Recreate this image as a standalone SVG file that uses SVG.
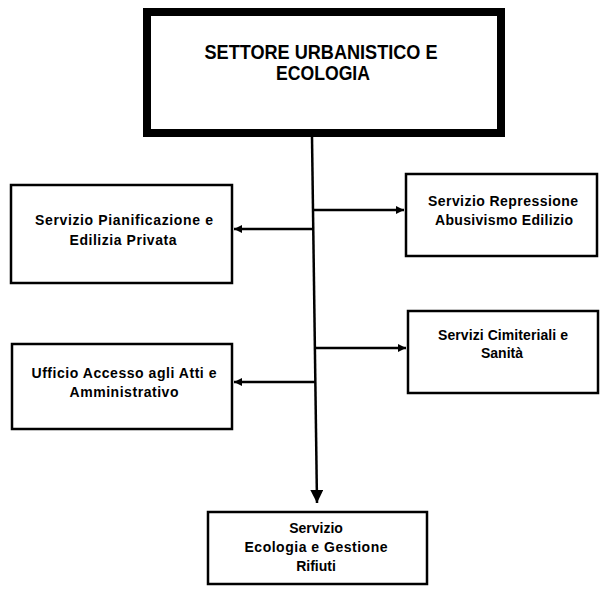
<svg xmlns="http://www.w3.org/2000/svg" width="601" height="595" viewBox="0 0 601 595">
<style>
  .box { fill: #ffffff; stroke: #000000; stroke-width: 2.5; }
  .main { fill: #ffffff; stroke: #000000; stroke-width: 8; }
  .t { font-family: "Liberation Sans", Arial, sans-serif; font-weight: bold; font-size: 14px; fill: #000; text-anchor: middle; }
  .tm { font-family: "Liberation Sans", Arial, sans-serif; font-weight: bold; font-size: 21px; fill: #000; text-anchor: middle; }
  .c { stroke: #000; stroke-width: 2.5; fill: none; }
</style>
<defs>
  <marker id="ah" markerUnits="userSpaceOnUse" markerWidth="9" markerHeight="8" refX="8" refY="4" orient="auto">
    <path d="M0,0 L8,4 L0,8 z" fill="#000"/>
  </marker>
  <marker id="ahb" markerUnits="userSpaceOnUse" markerWidth="14" markerHeight="13" refX="13" refY="6.5" orient="auto">
    <path d="M0,0 L13,6.5 L0,13 z" fill="#000"/>
  </marker>
</defs>
<rect width="601" height="595" fill="#ffffff"/>

<g id="connectors">
  <path class="c" d="M312,137 L317,503" marker-end="url(#ahb)"/>
  <path class="c" d="M313,210 L404,210" marker-end="url(#ah)"/>
  <path class="c" d="M313,229 L234,229" marker-end="url(#ah)"/>
  <path class="c" d="M315,348 L406,348" marker-end="url(#ah)"/>
  <path class="c" d="M316,382 L234,382" marker-end="url(#ah)"/>
</g>

<g id="settore">
  <rect class="main" x="147" y="12" width="354" height="121"/>
  <text class="tm" x="321" y="59" textLength="233" lengthAdjust="spacingAndGlyphs">SETTORE URBANISTICO E</text>
  <text class="tm" x="323" y="80" textLength="94" lengthAdjust="spacingAndGlyphs">ECOLOGIA</text>
</g>

<g id="pianificazione">
  <rect class="box" x="11" y="185" width="221" height="98"/>
  <text class="t" x="124" y="225" textLength="178" lengthAdjust="spacing">Servizio Pianificazione e</text>
  <text class="t" x="123" y="245" textLength="107" lengthAdjust="spacing">Edilizia Privata</text>
</g>

<g id="repressione">
  <rect class="box" x="406" y="174" width="191" height="82"/>
  <text class="t" x="503" y="206" textLength="150" lengthAdjust="spacing">Servizio Repressione</text>
  <text class="t" x="504" y="225" textLength="138" lengthAdjust="spacing">Abusivismo Edilizio</text>
</g>

<g id="cimiteriali">
  <rect class="box" x="408" y="311" width="190" height="82"/>
  <text class="t" x="503" y="340" textLength="130" lengthAdjust="spacing">Servizi Cimiteriali e</text>
  <text class="t" x="502" y="358">Sanità</text>
</g>

<g id="accesso">
  <rect class="box" x="12" y="344" width="220" height="85"/>
  <text class="t" x="124" y="378" textLength="185" lengthAdjust="spacing">Ufficio Accesso agli Atti e</text>
  <text class="t" x="124" y="397" textLength="109" lengthAdjust="spacing">Amministrativo</text>
</g>

<g id="ecologia">
  <rect class="box" x="208" y="512" width="219" height="72"/>
  <text class="t" x="316" y="533">Servizio</text>
  <text class="t" x="316" y="552" textLength="143" lengthAdjust="spacing">Ecologia e Gestione</text>
  <text class="t" x="316" y="571">Rifiuti</text>
</g>
</svg>
